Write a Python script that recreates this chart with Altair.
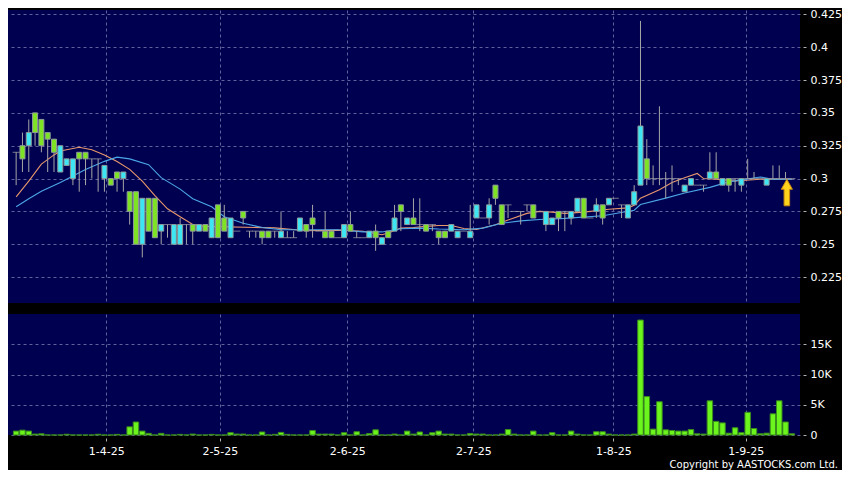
import altair as alt
import pandas as pd

# ---------------- data ----------------
opens = [0.32, 0.325, 0.325, 0.35, 0.345, 0.335, 0.33, 0.305, 0.31, 0.30,
         0.32, 0.32, 0.315, 0.315, 0.30, 0.30, 0.305, 0.30, 0.29, 0.29,
         0.25, 0.285, 0.285, 0.26, 0.265, 0.25, 0.25, 0.265, 0.265, 0.26,
         0.265, 0.255, 0.28, 0.27, 0.255, 0.26, 0.275, 0.26, 0.26, 0.26,
         0.26, 0.26, 0.255, 0.255, 0.255, 0.26, 0.265, 0.27, 0.26, 0.26,
         0.26, 0.255, 0.255, 0.265, 0.255, 0.255, 0.255, 0.26, 0.25, 0.26,
         0.26, 0.28, 0.265, 0.27, 0.265, 0.265, 0.265, 0.26, 0.26, 0.26,
         0.255, 0.26, 0.255, 0.27, 0.27, 0.27, 0.295, 0.28, 0.28, 0.275,
         0.275, 0.28, 0.28, 0.275, 0.265, 0.265, 0.275, 0.275, 0.27, 0.275,
         0.285, 0.27, 0.275, 0.28, 0.28, 0.285, 0.28, 0.27, 0.28, 0.295,
         0.315, 0.30, 0.30, 0.30, 0.30, 0.30, 0.29, 0.295, 0.295, 0.295,
         0.30, 0.305, 0.295, 0.30, 0.30, 0.295, 0.30, 0.30, 0.30, 0.295,
         0.30, 0.30, 0.30, 0.30]
highs = [0.32, 0.335, 0.345, 0.35, 0.345, 0.335, 0.33, 0.325, 0.315, 0.315,
         0.32, 0.32, 0.315, 0.315, 0.31, 0.30, 0.305, 0.305, 0.29, 0.29,
         0.285, 0.285, 0.285, 0.265, 0.265, 0.265, 0.27, 0.265, 0.265, 0.265,
         0.265, 0.27, 0.28, 0.28, 0.27, 0.26, 0.275, 0.26, 0.26, 0.26,
         0.26, 0.26, 0.275, 0.26, 0.26, 0.27, 0.265, 0.28, 0.26, 0.275,
         0.26, 0.255, 0.265, 0.275, 0.26, 0.255, 0.26, 0.265, 0.255, 0.26,
         0.28, 0.28, 0.27, 0.285, 0.285, 0.265, 0.265, 0.26, 0.26, 0.265,
         0.26, 0.26, 0.28, 0.28, 0.27, 0.285, 0.295, 0.28, 0.28, 0.275,
         0.275, 0.28, 0.28, 0.275, 0.275, 0.27, 0.275, 0.275, 0.275, 0.285,
         0.285, 0.27, 0.285, 0.28, 0.285, 0.285, 0.28, 0.28, 0.295, 0.42,
         0.33, 0.31, 0.355, 0.305, 0.31, 0.30, 0.295, 0.30, 0.295, 0.295,
         0.32, 0.32, 0.30, 0.30, 0.30, 0.30, 0.315, 0.305, 0.30, 0.30,
         0.31, 0.31, 0.305, 0.30]
lows = [0.295, 0.305, 0.305, 0.325, 0.32, 0.305, 0.305, 0.305, 0.31, 0.295,
        0.29, 0.295, 0.30, 0.29, 0.29, 0.295, 0.29, 0.29, 0.265, 0.25,
        0.24, 0.26, 0.255, 0.25, 0.255, 0.25, 0.25, 0.25, 0.25, 0.26,
        0.26, 0.255, 0.255, 0.26, 0.255, 0.26, 0.265, 0.255, 0.255, 0.25,
        0.255, 0.255, 0.255, 0.255, 0.255, 0.26, 0.255, 0.255, 0.26, 0.255,
        0.255, 0.255, 0.255, 0.26, 0.255, 0.255, 0.255, 0.245, 0.25, 0.255,
        0.26, 0.26, 0.265, 0.265, 0.26, 0.26, 0.26, 0.25, 0.255, 0.26,
        0.255, 0.26, 0.255, 0.27, 0.27, 0.265, 0.28, 0.265, 0.27, 0.275,
        0.265, 0.275, 0.27, 0.275, 0.26, 0.265, 0.26, 0.26, 0.265, 0.275,
        0.27, 0.27, 0.27, 0.265, 0.28, 0.285, 0.27, 0.27, 0.28, 0.295,
        0.295, 0.295, 0.295, 0.285, 0.29, 0.295, 0.29, 0.295, 0.295, 0.29,
        0.30, 0.30, 0.295, 0.29, 0.29, 0.29, 0.30, 0.30, 0.30, 0.295,
        0.30, 0.30, 0.30, 0.30]
closes = [0.32, 0.315, 0.335, 0.335, 0.325, 0.33, 0.32, 0.325, 0.315, 0.315,
          0.315, 0.315, 0.315, 0.315, 0.31, 0.295, 0.30, 0.305, 0.275, 0.25,
          0.285, 0.26, 0.255, 0.265, 0.265, 0.265, 0.265, 0.265, 0.26, 0.265,
          0.26, 0.27, 0.255, 0.26, 0.27, 0.26, 0.27, 0.26, 0.26, 0.255,
          0.255, 0.26, 0.26, 0.255, 0.255, 0.27, 0.26, 0.265, 0.26, 0.255,
          0.255, 0.255, 0.265, 0.26, 0.255, 0.255, 0.26, 0.255, 0.255, 0.255,
          0.27, 0.275, 0.27, 0.265, 0.265, 0.26, 0.265, 0.255, 0.255, 0.265,
          0.26, 0.26, 0.26, 0.28, 0.27, 0.28, 0.285, 0.265, 0.28, 0.275,
          0.275, 0.28, 0.27, 0.275, 0.275, 0.27, 0.27, 0.275, 0.275, 0.285,
          0.27, 0.27, 0.28, 0.27, 0.285, 0.285, 0.28, 0.28, 0.29, 0.34,
          0.30, 0.30, 0.30, 0.30, 0.30, 0.30, 0.295, 0.30, 0.295, 0.295,
          0.305, 0.30, 0.30, 0.295, 0.30, 0.30, 0.30, 0.30, 0.30, 0.30,
          0.30, 0.30, 0.30, 0.30]
volumes = [650, 800, 650, 150, 200, 0, 0, 0, 120, 0,
           0, 0, 0, 120, 0, 0, 100, 0, 1350, 2150,
           650, 270, 0, 270, 0, 0, 100, 0, 150, 0,
           0, 100, 0, 0, 380, 150, 150, 0, 0, 500,
           0, 100, 430, 100, 0, 0, 0, 750, 150, 150,
           150, 0, 380, 0, 540, 0, 250, 860, 0, 0,
           150, 0, 650, 150, 500, 0, 380, 650, 150, 150,
           0, 0, 250, 150, 150, 0, 0, 150, 900, 150,
           0, 0, 650, 0, 0, 380, 0, 0, 650, 150,
           0, 0, 540, 540, 150, 0, 0, 0, 150, 19000,
           6350, 970, 5500, 860, 750, 650, 650, 900, 200, 150,
           5650, 2250, 2000, 300, 1200, 380, 3750, 1070, 200, 300,
           3500, 5650, 2150, 200]

# moving averages (candle index, value)
ma_short_idx = [0, 2, 4, 6, 7, 10, 12, 14, 16, 18, 20, 22, 24, 26, 28, 30, 41,
                46, 51, 55, 58, 59, 61, 63, 65, 67, 69, 71, 73, 76, 78, 81, 83,
                85, 87, 90, 94, 97, 98, 99, 102, 104, 106, 108, 109, 111, 114,
                118, 123]
ma_short_val = [0.286, 0.298, 0.311, 0.318, 0.321, 0.3238, 0.322, 0.318, 0.313,
                0.307, 0.298, 0.287, 0.277, 0.271, 0.265, 0.2636, 0.2625,
                0.2603, 0.2608, 0.2599, 0.2573, 0.2586, 0.2623, 0.2628, 0.2636,
                0.2643, 0.2643, 0.262, 0.2612, 0.2648, 0.2685, 0.2735, 0.275,
                0.2745, 0.2735, 0.2745, 0.2767, 0.2777, 0.2797, 0.2851, 0.2915,
                0.297, 0.3007, 0.3039, 0.300, 0.2995, 0.2982, 0.2995, 0.2995]
ma_long_idx = [0, 2, 4, 7, 9, 11, 14, 16, 18, 21, 23, 26, 28, 31, 33, 36, 39,
               42, 46, 51, 55, 58, 61, 64, 67, 71, 74, 77, 80, 83, 87, 93, 98,
               99, 103, 106, 110, 113, 118, 120, 123]
ma_long_val = [0.2785, 0.2846, 0.2903, 0.297, 0.302, 0.3069, 0.3131, 0.3163,
               0.315, 0.3106, 0.3007, 0.292, 0.2846, 0.2785, 0.271, 0.266,
               0.2628, 0.2611, 0.2611, 0.2611, 0.2594, 0.2594, 0.2618, 0.2623,
               0.2616, 0.2611, 0.2623, 0.266, 0.2678, 0.2688, 0.2697, 0.2717,
               0.2759, 0.2802, 0.2851, 0.289, 0.2933, 0.2975, 0.3012, 0.2995,
               0.2995]

tick_pos = [14.3, 32.3, 52.5, 72.5, 94.7, 115.7]
tick_labels = ["1-4-25", "2-5-25", "2-6-25", "2-7-25", "1-8-25", "1-9-25"]
price_ticks = [0.225, 0.25, 0.275, 0.3, 0.325, 0.35, 0.375, 0.4, 0.425]
vol_ticks = [0, 5000, 10000, 15000]
copyright_text = "Copyright by AASTOCKS.com Ltd."

# ---------------- tables ----------------
n = len(closes)
df = pd.DataFrame({"i": list(range(n)), "open": opens, "high": highs,
                   "low": lows, "close": closes, "volume": volumes})
ma_df = pd.concat([
    pd.DataFrame({"i": ma_short_idx, "v": ma_short_val, "s": "short"}),
    pd.DataFrame({"i": ma_long_idx, "v": ma_long_val, "s": "long"}),
])
last_df = df.tail(1)

# ---------------- styling ----------------
CYAN = "#3de6f2"
GREEN = "#7ee324"
WICK = "#a6a6a6"
GRID = "#6c6ca4"
W, H1, H2, GAP = 792, 293, 121, 11

label_expr = ""
for p, lab in zip(tick_pos[:-1], tick_labels[:-1]):
    label_expr += f"datum.value <= {p + 0.01} ? '{lab}' : "
label_expr += f"'{tick_labels[-1]}'"

xscale = alt.Scale(domain=[-0.5, n - 0.5], nice=False, zero=False)
x_axis_top = alt.Axis(values=tick_pos, labels=False, ticks=False,
                      domain=False, grid=True, title=None)
pscale = alt.Scale(domain=[0.2053, 0.4283], nice=False, zero=False)
y_axis = alt.Axis(values=price_ticks, format=".3~f", orient="right",
                  title=None, grid=True, domain=False, offset=3,
                  tickSize=3, labelPadding=4, labelOverlap=False)


def X():
    return alt.X("i:Q", scale=xscale, axis=x_axis_top)


def Y(field):
    return alt.Y(field, scale=pscale, axis=y_axis)


base = alt.Chart(df)

ma_lines = alt.Chart(ma_df).mark_line(strokeWidth=1.1).encode(
    x=X(),
    y=Y("v:Q"),
    color=alt.Color("s:N", scale=alt.Scale(domain=["short", "long"],
                                           range=["#e8976c", "#4ba6e6"]),
                    legend=None),
)
wicks = base.mark_rule(color=WICK, strokeWidth=1).encode(
    x=X(), y=Y("low:Q"), y2="high:Q",
)
bodies = base.transform_filter("datum.open != datum.close").mark_bar(
    width=5, stroke="#8e9a9a", strokeWidth=1).encode(
    x=X(), y=Y("open:Q"), y2="close:Q",
    fill=alt.condition("datum.close > datum.open", alt.value(CYAN),
                       alt.value(GREEN)),
)
dojis = base.transform_filter("datum.open == datum.close").mark_tick(
    orient="horizontal", size=7, thickness=1, color=WICK).encode(
    x=X(), y=Y("close:Q"),
)
arrow = alt.Chart(last_df).mark_point(
    shape="M0,-1 L0.42,-0.25 L0.21,-0.25 L0.21,1 L-0.21,1 L-0.21,-0.25 L-0.42,-0.25 Z",
    size=700, filled=True, fill="#ffd21c", stroke="#c88a10", strokeWidth=1,
    opacity=1, xOffset=-5, yOffset=14).encode(
    x=X(), y=Y("close:Q"),
)

top = alt.layer(ma_lines, wicks, bodies, dojis, arrow).properties(
    width=W, height=H1)

vol_bars = base.mark_bar(width=5.5, fill="#6cf51c", stroke="#3a8c1c",
                         strokeWidth=1).encode(
    x=alt.X("i:Q", scale=xscale,
            axis=alt.Axis(values=tick_pos, labelExpr=label_expr, grid=True,
                          domain=False, title=None, offset=3, tickSize=3,
                          labelPadding=4)),
    y=alt.Y("volume:Q", scale=alt.Scale(domain=[0, 20000], nice=False),
            axis=alt.Axis(values=vol_ticks, orient="right", title=None,
                          grid=True, domain=False, offset=3, tickSize=3,
                          labelPadding=4, labelOverlap=False,
                          labelExpr="datum.value == 0 ? '0' : format(datum.value / 1000, 'd') + 'K'")),
)
copyright_mark = alt.Chart(pd.DataFrame({"t": [copyright_text]})).mark_text(
    align="right", baseline="alphabetic", fontSize=10, color="white",
    font="DejaVu Sans").encode(
    text="t:N", x=alt.value(W + 38), y=alt.value(H2 + 33))

bottom = alt.layer(vol_bars, copyright_mark).properties(width=W, height=H2)

chart = alt.vconcat(top, bottom, spacing=GAP).properties(
    background="#000000", padding=0,
).configure_view(
    fill="#000050", stroke=None,
).configure_axis(
    labelColor="#ffffff", labelFont="DejaVu Sans", labelFontSize=11,
    tickColor="#b0b0b0", gridColor=GRID, gridDash=[3, 3], gridWidth=1,
    gridOpacity=0.9, labelOverlap=False,
)

chart.save("out.html", embed_options={"renderer": "svg", "actions": False})
